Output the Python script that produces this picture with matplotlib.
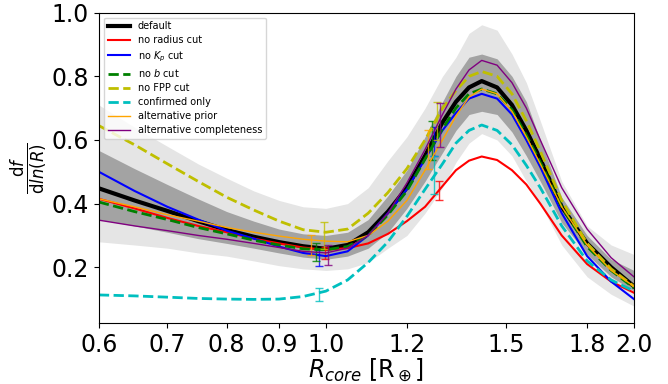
import numpy as np
import matplotlib
matplotlib.use('Agg')
import matplotlib.pyplot as plt
from matplotlib.ticker import FixedLocator, NullLocator, FormatStrFormatter

# radius grid (R_earth)
r_core = [0.6, 0.65, 0.7, 0.75, 0.8, 0.85, 0.9, 0.95, 1.0, 1.05, 1.1, 1.15, 1.2,
          1.25, 1.3, 1.34, 1.38, 1.42, 1.47, 1.52, 1.57, 1.62, 1.7, 1.8, 1.9, 2.0]

# default run + credible bands
default = [0.448, 0.410, 0.377, 0.345, 0.317, 0.296, 0.279, 0.266, 0.258, 0.27, 0.31, 0.375, 0.45,
           0.55, 0.655, 0.72, 0.765, 0.785, 0.765, 0.71, 0.63, 0.54, 0.39, 0.275, 0.2, 0.14]
lo2 = [0.28, 0.27, 0.26, 0.245, 0.235, 0.22, 0.205, 0.195, 0.19, 0.195, 0.215, 0.26, 0.30,
       0.37, 0.45, 0.53, 0.59, 0.62, 0.60, 0.55, 0.47, 0.40, 0.27, 0.17, 0.115, 0.078]
lo1 = [0.35, 0.33, 0.31, 0.29, 0.275, 0.26, 0.245, 0.232, 0.225, 0.235, 0.26, 0.31, 0.385,
       0.47, 0.56, 0.63, 0.68, 0.69, 0.68, 0.625, 0.55, 0.47, 0.34, 0.24, 0.17, 0.125]
hi1 = [0.567, 0.51, 0.46, 0.415, 0.375, 0.345, 0.32, 0.305, 0.30, 0.31, 0.35, 0.425, 0.505,
       0.61, 0.72, 0.80, 0.86, 0.87, 0.855, 0.80, 0.72, 0.60, 0.42, 0.30, 0.225, 0.19]
hi2 = [0.71, 0.64, 0.58, 0.525, 0.48, 0.44, 0.41, 0.39, 0.385, 0.40, 0.45, 0.535, 0.61,
       0.70, 0.80, 0.86, 0.935, 0.962, 0.945, 0.87, 0.78, 0.66, 0.47, 0.33, 0.27, 0.24]

no_radius = [0.415, 0.385, 0.355, 0.33, 0.31, 0.29, 0.275, 0.262, 0.255, 0.26, 0.275, 0.305, 0.345,
             0.39, 0.455, 0.505, 0.535, 0.548, 0.537, 0.505, 0.46, 0.40, 0.30, 0.21, 0.155, 0.12]
no_kp = [0.50, 0.44, 0.39, 0.35, 0.315, 0.29, 0.265, 0.245, 0.235, 0.25, 0.30, 0.37, 0.445,
         0.54, 0.63, 0.685, 0.73, 0.745, 0.73, 0.68, 0.60, 0.515, 0.37, 0.235, 0.155, 0.10]
no_b = [0.405, 0.375, 0.35, 0.325, 0.305, 0.285, 0.27, 0.258, 0.255, 0.265, 0.30, 0.365, 0.44,
        0.54, 0.635, 0.70, 0.745, 0.76, 0.745, 0.695, 0.615, 0.53, 0.39, 0.265, 0.19, 0.135]
no_fpp = [0.645, 0.585, 0.525, 0.47, 0.42, 0.38, 0.345, 0.318, 0.31, 0.32, 0.37, 0.435, 0.51,
          0.60, 0.70, 0.755, 0.80, 0.815, 0.80, 0.745, 0.66, 0.565, 0.41, 0.275, 0.195, 0.14]
confirmed = [0.113, 0.110, 0.106, 0.102, 0.100, 0.099, 0.100, 0.108, 0.125, 0.16, 0.215, 0.28, 0.36,
             0.445, 0.525, 0.59, 0.63, 0.647, 0.63, 0.585, 0.52, 0.45, 0.33, 0.22, 0.16, 0.125]
alt_prior = [0.415, 0.39, 0.365, 0.345, 0.325, 0.31, 0.298, 0.288, 0.282, 0.28, 0.30, 0.345, 0.41,
             0.505, 0.60, 0.675, 0.735, 0.76, 0.745, 0.69, 0.61, 0.525, 0.39, 0.27, 0.19, 0.14]
alt_compl = [0.348, 0.33, 0.315, 0.30, 0.288, 0.275, 0.262, 0.25, 0.245, 0.26, 0.30, 0.37, 0.465,
             0.57, 0.68, 0.76, 0.82, 0.85, 0.835, 0.78, 0.70, 0.60, 0.45, 0.32, 0.23, 0.17]

# error bars near the valley and the peak flank: (x, y, err) per run
eb_radius = [(0.998, 0.245, 0.018), (1.29, 0.44, 0.03)]
eb_kp = [(0.985, 0.229, 0.025), (1.276, 0.595, 0.045)]
eb_b = [(0.978, 0.248, 0.027), (1.27, 0.598, 0.062)]
eb_fpp = [(0.995, 0.30, 0.043), (1.285, 0.66, 0.06)]
eb_conf = [(0.985, 0.115, 0.021), (1.275, 0.49, 0.06)]
eb_prior = [(0.968, 0.27, 0.03), (1.258, 0.57, 0.06)]
eb_compl = [(1.005, 0.238, 0.031), (1.294, 0.646, 0.069)]

xticks = [0.6, 0.7, 0.8, 0.9, 1.0, 1.2, 1.5, 1.8, 2.0]

fig = plt.figure(figsize=(6.68, 3.84), dpi=100)
ax = fig.add_axes([0.148, 0.159, 0.801, 0.808])

ax.fill_between(r_core, lo2, hi2, color='#e5e5e5', lw=0)
ax.fill_between(r_core, lo1, hi1, color='#a3a3a3', lw=0)

ax.plot(r_core, default, color='k', lw=3, label='default')
runs = [
    (no_radius, eb_radius, dict(color='r', lw=1.5, ls='-'), 'no radius cut'),
    (no_kp, eb_kp, dict(color='b', lw=1.5, ls='-'), r'no $K_p$ cut'),
    (no_b, eb_b, dict(color='g', lw=2, ls='--'), r'no $b$ cut'),
    (no_fpp, eb_fpp, dict(color='y', lw=2, ls='--'), 'no FPP cut'),
    (confirmed, eb_conf, dict(color='c', lw=2, ls='--'), 'confirmed only'),
    (alt_prior, eb_prior, dict(color='orange', lw=1, ls='-'), 'alternative prior'),
    (alt_compl, eb_compl, dict(color='purple', lw=1, ls='-'), 'alternative completeness'),
]
for yv, eb, style, lab in runs:
    ax.plot(r_core, yv, label=lab, **style)
    for xe, ye, ee in eb:
        ax.errorbar(xe, ye, yerr=ee, color=style['color'], lw=1, capsize=3, alpha=0.8)

ax.set_xscale('log')
ax.set_xlim(0.6, 2.0)
ax.set_ylim(0.025, 1.0)
ax.xaxis.set_major_locator(FixedLocator(xticks))
ax.xaxis.set_minor_locator(NullLocator())
ax.xaxis.set_major_formatter(FormatStrFormatter('%.1f'))
ax.set_yticks([0.2, 0.4, 0.6, 0.8, 1.0])
ax.tick_params(labelsize=17)
ax.set_xlabel(r'$R_{core}$ [R$_\oplus$]', fontsize=17, labelpad=0)
ax.set_ylabel(r'$\frac{\mathrm{d}f}{\mathrm{d}ln(R)}$', fontsize=17, labelpad=2)
ax.legend(loc='upper left', fontsize=7, handlelength=2.3, labelspacing=0.4)

fig.savefig('out.png', dpi=100)
